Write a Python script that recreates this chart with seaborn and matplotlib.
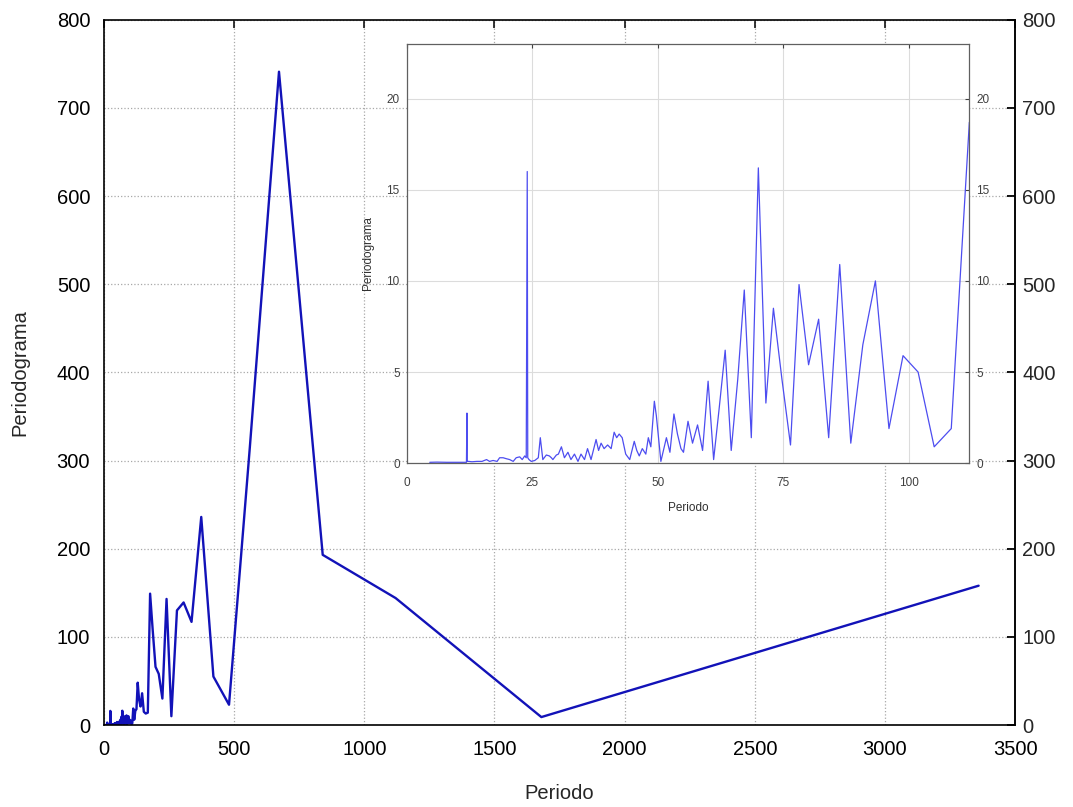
import numpy as np
import pandas as pd
import matplotlib
matplotlib.use("Agg")
import matplotlib.pyplot as plt
import seaborn as sns

# periodo (horas) y valor del periodograma
periodo_largo = [3360, 1680, 1120, 840, 672, 560, 480, 420, 373.3, 336, 305.5, 280,
                 258.5, 240, 224, 210, 197.6, 186.7, 176.8, 168, 160, 152.7, 146.1,
                 140, 134.4, 129.2, 124.4, 120, 115.9]
valor_largo = [158, 9, 144, 193, 741, 315, 23, 55, 236, 117, 139, 130,
               10, 143, 30, 58, 66, 108, 149, 14, 13, 15, 36,
               21, 29, 48, 18, 16, 6]

periodo_medio = [112.0, 108.4, 105.0, 101.8, 98.8, 96.0, 93.3, 90.8, 88.4, 86.2,
                 84.0, 82.0, 80.0, 78.1, 76.4, 74.7, 73.0, 71.5, 70.0, 68.6,
                 67.2, 65.9, 64.6, 63.4, 62.2, 61.1, 60.0, 58.9, 57.9, 56.9, 56.0]
valor_medio = [18.7, 1.9, 0.9, 5.0, 5.9, 1.9, 10.0, 6.5, 1.1, 10.9,
               1.4, 7.9, 5.4, 9.8, 1.0, 4.6, 8.5, 3.3, 16.2, 1.4,
               9.5, 4.6, 0.7, 6.2, 3.0, 0.2, 4.5, 0.7, 2.1, 1.1, 2.3]

periodo_corto = [55.1, 54.6, 53.9, 53.2, 52.4, 51.7, 50.6, 49.7, 49.3, 48.6, 48.1,
                 47.6, 46.9, 46.3, 45.8, 45.3, 44.4, 43.6, 42.9, 42.3, 41.8, 41.3,
                 40.7, 40.0, 39.3, 38.7, 38.2, 37.7, 36.7, 36.0, 35.4, 34.7, 34.1,
                 33.4, 32.7, 32.1, 31.4, 30.8, 30.2, 29.8, 29.1, 28.8, 28.4, 27.8,
                 27.1, 26.6, 26.2, 25.5, 24.8, 24.35, 24.1, 24.0, 23.9, 23.8, 23.5,
                 23.0, 22.5, 21.8, 21.2, 20.5, 19.8, 19.2, 18.5, 18.0, 17.2, 16.5,
                 15.9, 15.0, 14.0, 13.0, 12.3, 12.05, 12.0, 11.95, 11.9, 10.0, 8.0,
                 6.0, 4.6]
valor_corto = [0.6, 0.8, 1.6, 2.7, 0.6, 1.4, 0.1, 2.6, 3.4, 0.9, 1.4,
               0.5, 0.8, 0.4, 0.7, 1.2, 0.2, 0.5, 1.4, 1.6, 1.4, 1.7,
               0.8, 1.0, 0.8, 1.1, 0.7, 1.3, 0.2, 0.8, 0.2, 0.5, 0.1,
               0.5, 0.2, 0.6, 0.3, 0.9, 0.5, 0.45, 0.2, 0.3, 0.4, 0.45,
               0.2, 1.4, 0.3, 0.15, 0.1, 0.2, 0.3, 16.0, 8.1, 0.3, 0.4,
               0.2, 0.35, 0.3, 0.1, 0.2, 0.25, 0.3, 0.3, 0.1, 0.15, 0.1,
               0.2, 0.1, 0.1, 0.08, 0.1, 0.1, 2.75, 1.4, 0.05, 0.05, 0.05,
               0.06, 0.05]

df = pd.DataFrame({
    "Periodo": periodo_largo + periodo_medio + periodo_corto,
    "Periodograma": valor_largo + valor_medio + valor_corto,
})

sns.set_theme(style="white")
plt.rcParams["font.family"] = ["Liberation Sans", "DejaVu Sans"]

fig = plt.figure(figsize=(10.73, 8.07), dpi=100)

# grafico principal
ax = fig.add_axes([0.097, 0.1016, 0.849, 0.874])
sns.lineplot(data=df, x="Periodo", y="Periodograma", ax=ax, color="#1212b8",
             linewidth=1.7, estimator=None)
ax.set_xlim(0, 3500)
ax.set_ylim(0, 800)
ax.set_xticks(np.arange(0, 3501, 500))
ax.set_yticks(np.arange(0, 801, 100))
ax.grid(True, linestyle=":", color="#a8a8a8", linewidth=0.9)
for s in ax.spines.values():
    s.set_color("black")
    s.set_linewidth(1.2)
ax.tick_params(direction="in", length=6, width=1.1, top=True, right=True,
               labelsize=14.5, colors="black", pad=10)
ax.tick_params(axis="x", pad=11)
ax2 = ax.secondary_yaxis("right")
ax2.set_yticks(np.arange(0, 801, 100))
ax2.tick_params(direction="in", length=6, width=1.1, labelsize=14.5, pad=5)
ax2.spines["right"].set_linewidth(1.2)
ax.set_xlabel("Periodo", fontsize=14.5, labelpad=18)
ax.set_ylabel("Periodograma", fontsize=14.5, labelpad=20)

# grafico interior (zoom)
axi = fig.add_axes([0.379, 0.426, 0.5244, 0.5196])
sns.lineplot(data=df, x="Periodo", y="Periodograma", ax=axi, color="#4d4df0",
             linewidth=0.9, estimator=None)
axi.set_xlim(0, 112)
axi.set_ylim(0, 23)
axi.set_xticks([0, 25, 50, 75, 100])
axi.set_yticks([0, 5, 10, 15, 20])
axi.grid(True, linestyle="-", color="#dcdcdc", linewidth=0.8)
for s in axi.spines.values():
    s.set_color("#606060")
    s.set_linewidth(0.9)
axi.tick_params(direction="in", length=3, width=0.8, top=True, right=True,
                labelright=True, labelsize=8.5, colors="#404040", pad=5)
axi.tick_params(axis="x", pad=10)
axi.set_xlabel("Periodo", fontsize=8.5, color="#303030", labelpad=9)
axi.set_ylabel("Periodograma", fontsize=8.5, color="#303030", labelpad=9)

fig.savefig("out.png", dpi=100)
